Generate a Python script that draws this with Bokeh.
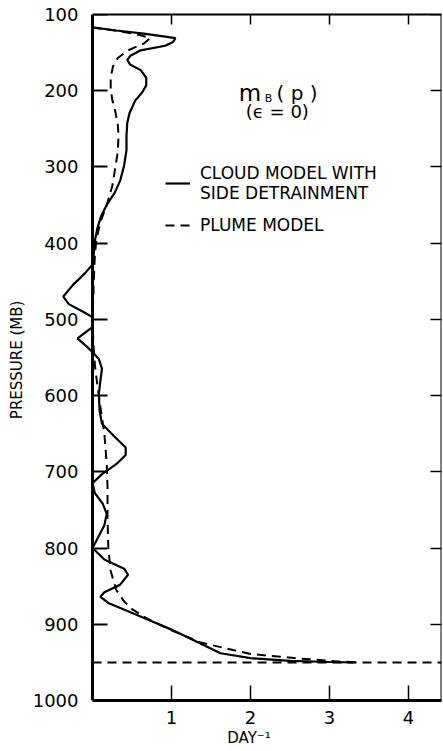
from bokeh.plotting import figure
from bokeh.models import Range1d, LinearAxis, FixedTicker, Label, Legend, LegendItem
from bokeh.embed import file_html
from bokeh.resources import INLINE

# ---- data ----
pressure_cloud = [117, 121, 125, 131, 136, 141, 147, 154, 160, 166, 173, 183, 193, 202, 213,
                  229, 242, 259, 278, 298, 318, 334, 348, 364, 381, 397, 410, 428, 440, 455,
                  470, 480, 490, 497, 510, 525, 535, 543, 552, 565, 580, 598, 620, 637, 653,
                  668, 678, 690, 703, 715, 728, 742, 755, 770, 790, 800, 815, 827, 835, 848,
                  858, 864, 872, 883, 896, 907, 922, 938, 944.5, 948, 949.5, 950]
mb_cloud = [0.0, 0.3, 0.65, 1.05, 1.02, 0.92, 0.61, 0.48, 0.44, 0.48, 0.61, 0.68, 0.68, 0.63, 0.54,
            0.47, 0.44, 0.43, 0.43, 0.40, 0.35, 0.28, 0.19, 0.11, 0.06, 0.03, 0.02, 0.0, -0.1, -0.25,
            -0.37, -0.3, -0.12, 0.0, 0.0, -0.19, -0.08, 0.0, 0.08, 0.12, 0.10, 0.08, 0.09, 0.12, 0.27,
            0.42, 0.42, 0.30, 0.12, 0.0, 0.03, 0.13, 0.18, 0.15, 0.05, 0.0, 0.15, 0.40, 0.45, 0.35,
            0.15, 0.10, 0.20, 0.45, 0.75, 1.0, 1.3, 1.62, 2.0, 2.5, 3.0, 3.3]

pressure_plume = [117, 122, 127, 131, 138, 147, 157, 168, 182, 197, 212, 228, 245, 258, 280,
                  300, 325, 350, 372, 395, 415, 440, 470, 500, 530, 560, 585, 615, 650, 690,
                  720, 760, 800, 830, 855, 870, 880, 893, 908, 924, 939, 945, 949, 950]
mb_plume = [0.0, 0.35, 0.6, 0.73, 0.65, 0.45, 0.32, 0.26, 0.23, 0.23, 0.25, 0.29, 0.32, 0.33, 0.32,
            0.29, 0.25, 0.18, 0.10, 0.05, 0.03, 0.02, 0.01, 0.0, 0.01, 0.03, 0.06, 0.10, 0.15, 0.18,
            0.19, 0.19, 0.20, 0.23, 0.30, 0.40, 0.50, 0.70, 1.0, 1.37, 2.0, 2.63, 3.14, 3.4]

cloud_base_pressure = 950
x_ticks = [1, 2, 3, 4]
p_ticks = [100, 200, 300, 400, 500, 600, 700, 800, 900, 1000]

XMIN, XMAX = -0.456, 4.418
PTOP, PBOT = 100, 1000
FONT = "DejaVu Sans"

p = figure(width=443, height=751, output_backend="svg", toolbar_location=None,
           x_range=Range1d(XMIN, XMAX), y_range=Range1d(PBOT, PTOP),
           x_axis_location=None, y_axis_location=None,
           min_border_left=56, min_border_right=2, min_border_top=14, min_border_bottom=51,
           outline_line_color=None, background_fill_color="white", border_fill_color="white")
p.grid.visible = False

common = dict(minor_tick_in=0, minor_tick_out=0, major_tick_out=0,
              major_tick_line_color="black", axis_line_color="black")

# left: labels + title in the side panel (no line), line + inward ticks at x = 0
left_labels = LinearAxis(ticker=FixedTicker(ticks=p_ticks),
                         axis_label="PRESSURE  (MB)", major_tick_in=0, major_tick_out=0,
                         minor_tick_in=0, minor_tick_out=0, axis_line_color=None,
                         major_tick_line_color=None, major_label_standoff=-22,
                         major_label_text_font=FONT, major_label_text_font_size="18px",
                         major_label_text_color="black",
                         axis_label_text_font=FONT, axis_label_text_font_size="15px",
                         axis_label_text_font_style="normal", axis_label_standoff=4,
                         axis_label_text_color="black")
p.add_layout(left_labels, "left")

left_line = LinearAxis(fixed_location=0, ticker=FixedTicker(ticks=p_ticks),
                       major_tick_in=15, axis_line_width=3, major_tick_line_width=2,
                       major_label_text_alpha=0, major_label_text_font_size="1px", **common)
p.add_layout(left_line, "left")

right = LinearAxis(fixed_location=XMAX, ticker=FixedTicker(ticks=p_ticks),
                   major_tick_in=11, axis_line_width=2, major_tick_line_width=1.5,
                   major_label_text_alpha=0, major_label_text_font_size="1px", **common)
p.add_layout(right, "right")

top = LinearAxis(bounds=(0, XMAX), ticker=FixedTicker(ticks=x_ticks),
                 major_tick_in=10, axis_line_width=2, major_tick_line_width=1.5,
                 major_label_standoff=0,
                 major_label_text_alpha=0, major_label_text_font_size="1px", **common)
p.add_layout(top, "above")

bottom = LinearAxis(bounds=(0, XMAX), ticker=FixedTicker(ticks=x_ticks),
                    axis_label="DAY⁻¹", major_tick_in=15, axis_line_width=3,
                    major_tick_line_width=1.5, major_label_standoff=10,
                    major_label_text_font=FONT, major_label_text_font_size="18px",
                    major_label_text_color="black",
                    axis_label_text_font=FONT, axis_label_text_font_size="15px",
                    axis_label_text_font_style="normal", axis_label_standoff=2,
                    axis_label_text_color="black", **common)
p.add_layout(bottom, "below")

r_cloud = p.line(mb_cloud, pressure_cloud, line_color="black", line_width=2.2)
r_plume = p.line(mb_plume, pressure_plume, line_color="black", line_width=2, line_dash="9 6")
p.segment(x0=[0], x1=[XMAX], y0=[cloud_base_pressure], y1=[cloud_base_pressure],
          line_color="black", line_width=2, line_dash="9 6")

legend = Legend(items=[LegendItem(label="CLOUD MODEL WITH\nSIDE DETRAINMENT", renderers=[r_cloud]),
                       LegendItem(label="PLUME MODEL", renderers=[r_plume])],
                location=(109, 465), orientation="vertical",
                padding=0, margin=0, spacing=12, glyph_width=25, glyph_height=20,
                label_standoff=10, label_text_font=FONT, label_text_font_size="17px",
                label_text_color="black", border_line_color=None, background_fill_alpha=0)
p.add_layout(legend, "center")

p.add_layout(Label(x=1.85, y=203.6, text="m", text_font=FONT, text_font_size="23px",
                   text_baseline="alphabetic", text_color="black"))
p.add_layout(Label(x=2.18, y=210, text="B", text_font=FONT, text_font_size="11px",
                   text_baseline="alphabetic", text_color="black"))
p.add_layout(Label(x=2.33, y=203.6, text="( p )", text_font=FONT, text_font_size="20px",
                   text_baseline="alphabetic", text_color="black"))
p.add_layout(Label(x=1.94, y=227, text="(ϵ = 0)", text_font=FONT, text_font_size="18px",
                   text_baseline="middle", text_color="black"))

open("out.html", "w").write(file_html(p, INLINE))
